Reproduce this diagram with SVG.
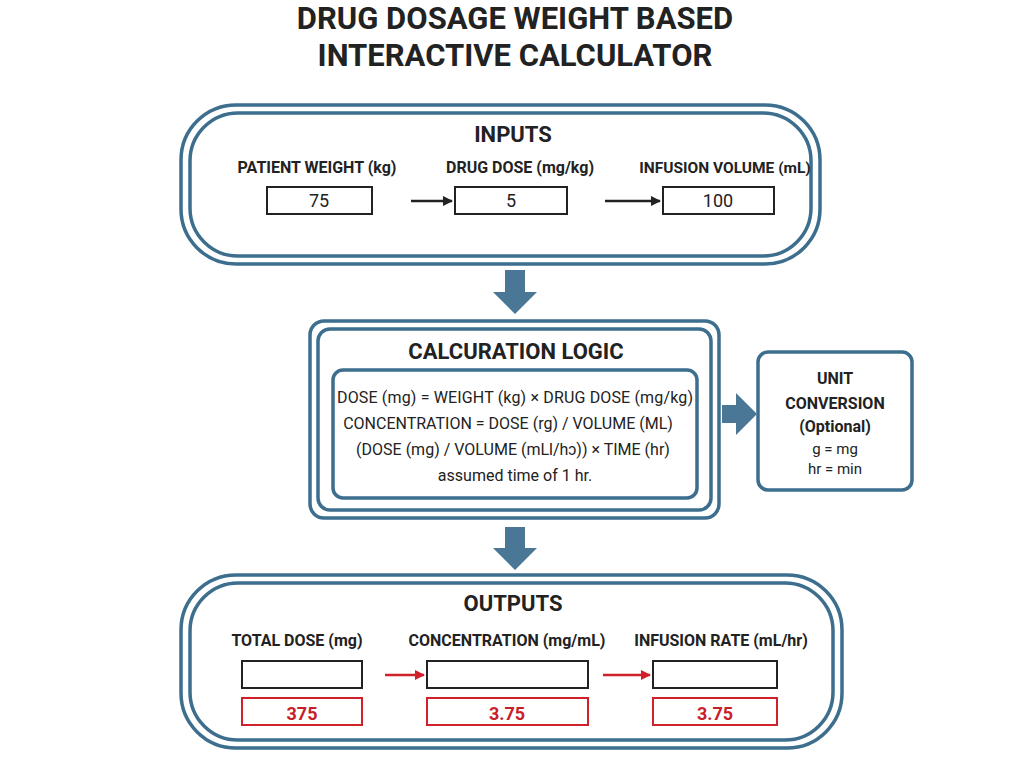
<svg xmlns="http://www.w3.org/2000/svg" width="1024" height="777" viewBox="0 0 1024 777">
<style>
.o{fill:none;stroke:#3d6e8e;stroke-width:3.5}
.w{fill:#fff;stroke:#3d6e8e;stroke-width:3.5}
.t{font-family:"Roboto","Liberation Sans",sans-serif;fill:#222;text-anchor:middle}
.h{font-weight:bold}
.box{fill:#fff;stroke:#222;stroke-width:2}
.rb{fill:#fff;stroke:#d0202a;stroke-width:2}
.rv{fill:#c8202a;font-weight:bold}
.blk{stroke:#222;stroke-width:2.5}
.red{stroke:#d0202a;stroke-width:2.5}
.big{fill:#4a7796}
</style>
<defs>
<marker id="ab" markerWidth="10" markerHeight="10" refX="9" refY="5" orient="auto" markerUnits="userSpaceOnUse"><path d="M0,0L10,5L0,10z" fill="#222"/></marker>
<marker id="ar" markerWidth="10" markerHeight="10" refX="9" refY="5" orient="auto" markerUnits="userSpaceOnUse"><path d="M0,0L10,5L0,10z" fill="#d0202a"/></marker>
</defs>
<rect width="1024" height="777" fill="#fff"/>
<g id="title"><text class="t h" x="515" y="29" font-size="31" fill="#333">DRUG DOSAGE WEIGHT BASED</text><text class="t h" x="515" y="66" font-size="31" fill="#333">INTERACTIVE CALCULATOR</text></g>
<g id="inputs">
<rect class="o" x="181" y="105" width="639" height="159" rx="55"/>
<rect class="o" x="190" y="113" width="621" height="143" rx="48"/>
<text class="t h" x="513" y="142" font-size="22">INPUTS</text>
<text class="t h" x="317" y="173" font-size="16">PATIENT WEIGHT (kg)</text>
<text class="t h" x="520" y="173" font-size="16">DRUG DOSE (mg/kg)</text>
<text class="t h" x="725" y="173" font-size="15.5">INFUSION VOLUME (mL)</text>
<rect class="box" x="267" y="187" width="105" height="27"/><text class="t" x="319" y="207" font-size="18">75</text>
<rect class="box" x="455" y="187" width="112" height="27"/><text class="t" x="511" y="207" font-size="18">5</text>
<rect class="box" x="663" y="187" width="111" height="27"/><text class="t" x="718" y="207" font-size="18">100</text>
</g>
<g id="logic">
<rect class="o" x="310" y="321" width="409" height="197" rx="14"/>
<rect class="o" x="318" y="329" width="393" height="181" rx="12"/>
<text class="t h" x="516" y="359" font-size="22">CALCURATION LOGIC</text>
<rect class="o" x="333" y="370" width="364" height="128" rx="10"/>
<text class="t" x="515" y="403" font-size="16" textLength="356">DOSE (mg) = WEIGHT (kg) × DRUG DOSE (mg/kg)</text>
<text class="t" x="508" y="429" font-size="16">CONCENTRATION = DOSE (rg) / VOLUME (ML)</text>
<text class="t" x="513" y="455" font-size="16">(DOSE (mg) / VOLUME (mLl/hɔ)) × TIME (hr)</text>
<text class="t" x="515" y="481" font-size="16">assumed time of 1 hr.</text>
</g>
<g id="unit">
<rect class="w" x="758" y="352" width="154" height="138" rx="10"/>
<text class="t h" x="835" y="384" font-size="16">UNIT</text>
<text class="t h" x="835" y="409" font-size="16">CONVERSION</text>
<text class="t h" x="835" y="432" font-size="16">(Optional)</text>
<text class="t" x="835" y="454" font-size="15">g = mg</text>
<text class="t" x="835" y="474" font-size="15">hr = min</text>
</g>
<g id="outputs">
<rect class="o" x="181" y="575" width="661" height="173" rx="55"/>
<rect class="o" x="190" y="583" width="643" height="157" rx="48"/>
<text class="t h" x="513" y="611" font-size="22">OUTPUTS</text>
<text class="t h" x="297" y="646" font-size="16">TOTAL DOSE (mg)</text>
<text class="t h" x="507" y="646" font-size="16">CONCENTRATION (mg/mL)</text>
<text class="t h" x="721" y="646" font-size="16">INFUSION RATE (mL/hr)</text>
<rect class="box" x="242" y="661" width="120" height="27"/>
<rect class="box" x="427" y="661" width="161" height="27"/>
<rect class="box" x="653" y="661" width="124" height="27"/>
<rect class="rb" x="242" y="698" width="120" height="27"/><text class="t rv" x="302" y="720" font-size="18">375</text>
<rect class="rb" x="427" y="698" width="161" height="27"/><text class="t rv" x="507" y="720" font-size="18">3.75</text>
<rect class="rb" x="653" y="698" width="124" height="27"/><text class="t rv" x="715" y="720" font-size="18">3.75</text>
</g>
<g id="connectors">
<line class="blk" x1="411" y1="201" x2="452" y2="201" marker-end="url(#ab)"/>
<line class="blk" x1="605" y1="201" x2="660" y2="201" marker-end="url(#ab)"/>
<line class="red" x1="385" y1="675" x2="424" y2="675" marker-end="url(#ar)"/>
<line class="red" x1="603" y1="675" x2="650" y2="675" marker-end="url(#ar)"/>
<path class="big" d="M505,270h20v22h12l-22,22l-22,-22h12z"/>
<path class="big" d="M505,527h20v21h12l-22,22l-22,-22h12z"/>
<path class="big" d="M722,405h14v-12l21,21l-21,21v-12h-14z"/>
</g>
</svg>
